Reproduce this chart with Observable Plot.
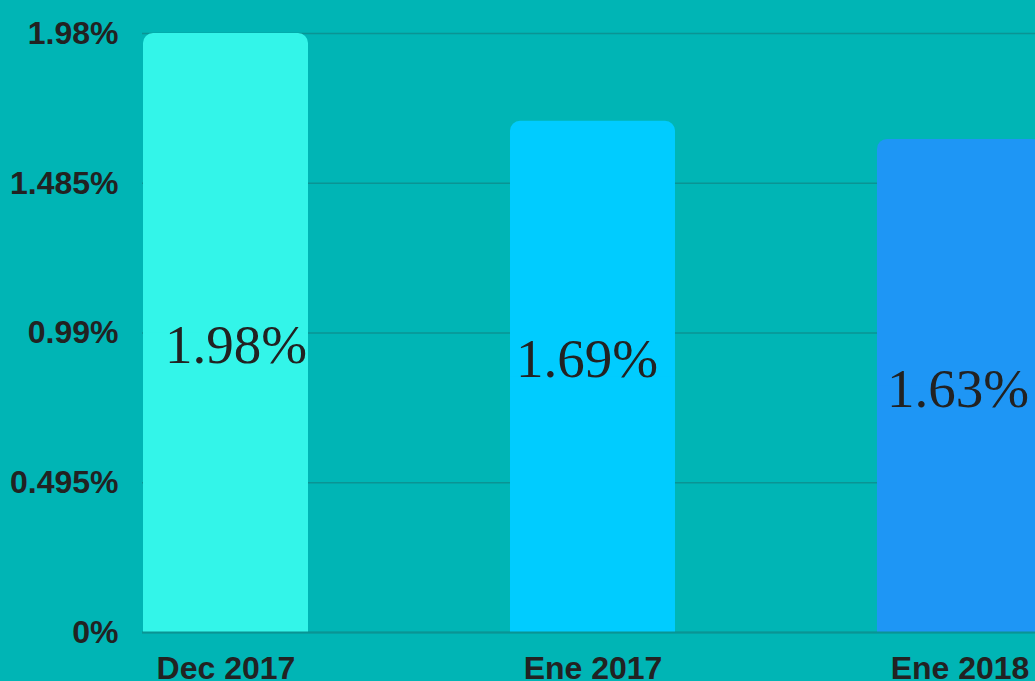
<!DOCTYPE html>
<html>
<head>
<meta charset="utf-8">
<script src="https://cdn.jsdelivr.net/npm/d3@7"></script>
<script src="https://cdn.jsdelivr.net/npm/@observablehq/plot@0.6"></script>
<style>
  html, body { margin: 0; padding: 0; background: #00B5B5; overflow: hidden; }
  #chart svg { display: block; overflow: hidden; }
</style>
</head>
<body>
<div id="chart"></div>
<script>
const categories = ["Dec 2017", "Ene 2017", "Ene 2018"];
const values = [1.98, 1.69, 1.63];
const barColors = ["#33F5E9", "#00CCFF", "#1E96F5"];
const yTicks = [0, 0.495, 0.99, 1.485, 1.98];
const labelTexts = ["1.98%", "1.69%", "1.63%"];

const data = categories.map((c, i) => ({category: c, value: values[i], label: labelTexts[i]}));
// per-label nudges [dx, dy] to match the reference placement
const nudges = [[10, 30], [-6, 0], [-2, 21]];

const W = 1035, H = 681;
const gridColor = "#0A9494";
const textColor = "#222222";

const labelMarks = data.map((d, i) => Plot.text([d], {
  x: "category",
  y: v => v.value / 2,
  text: "label",
  dx: nudges[i][0],
  dy: nudges[i][1],
  lineAnchor: "bottom",
  fontFamily: "'Liberation Serif', serif",
  fontSize: 55,
  fontWeight: "normal",
  fill: textColor
}));

const chart = Plot.plot({
  width: W,
  height: H,
  marginLeft: 142,
  marginRight: 0,
  marginTop: 33,
  marginBottom: 49,
  style: {
    background: "#00B5B5",
    fontFamily: "'Liberation Sans', Arial, sans-serif",
    fontSize: "32px",
    fontWeight: "bold",
    color: textColor,
    overflow: "hidden"
  },
  x: {domain: categories, range: [142, 1043], paddingInner: 0.55, paddingOuter: 0, label: null},
  y: {domain: [0, 1.98], range: [632, 33], label: null},
  color: {domain: categories, range: barColors},
  marks: [
    Plot.gridY(yTicks, {stroke: gridColor, strokeOpacity: 1, strokeWidth: 1.5}),
    Plot.barY(data, {x: "category", y: "value", fill: "category", rx: 10}),
    Plot.barY(data, {x: "category", y: d => d.value / 2, fill: "category"}),
    Plot.ruleY([0], {stroke: gridColor, strokeWidth: 2}),
    ...labelMarks,
    Plot.axisY({
      ticks: yTicks,
      tickFormat: d => d + "%",
      tickSize: 0,
      tickPadding: 24,
      fontSize: 32,
      fontWeight: "bold",
      fill: textColor,
      label: null
    }),
    Plot.axisX({
      tickSize: 0,
      tickPadding: 24,
      fontSize: 32,
      fontWeight: "bold",
      fill: textColor,
      label: null
    })
  ]
});
document.getElementById("chart").appendChild(chart);
</script>
</body>
</html>
